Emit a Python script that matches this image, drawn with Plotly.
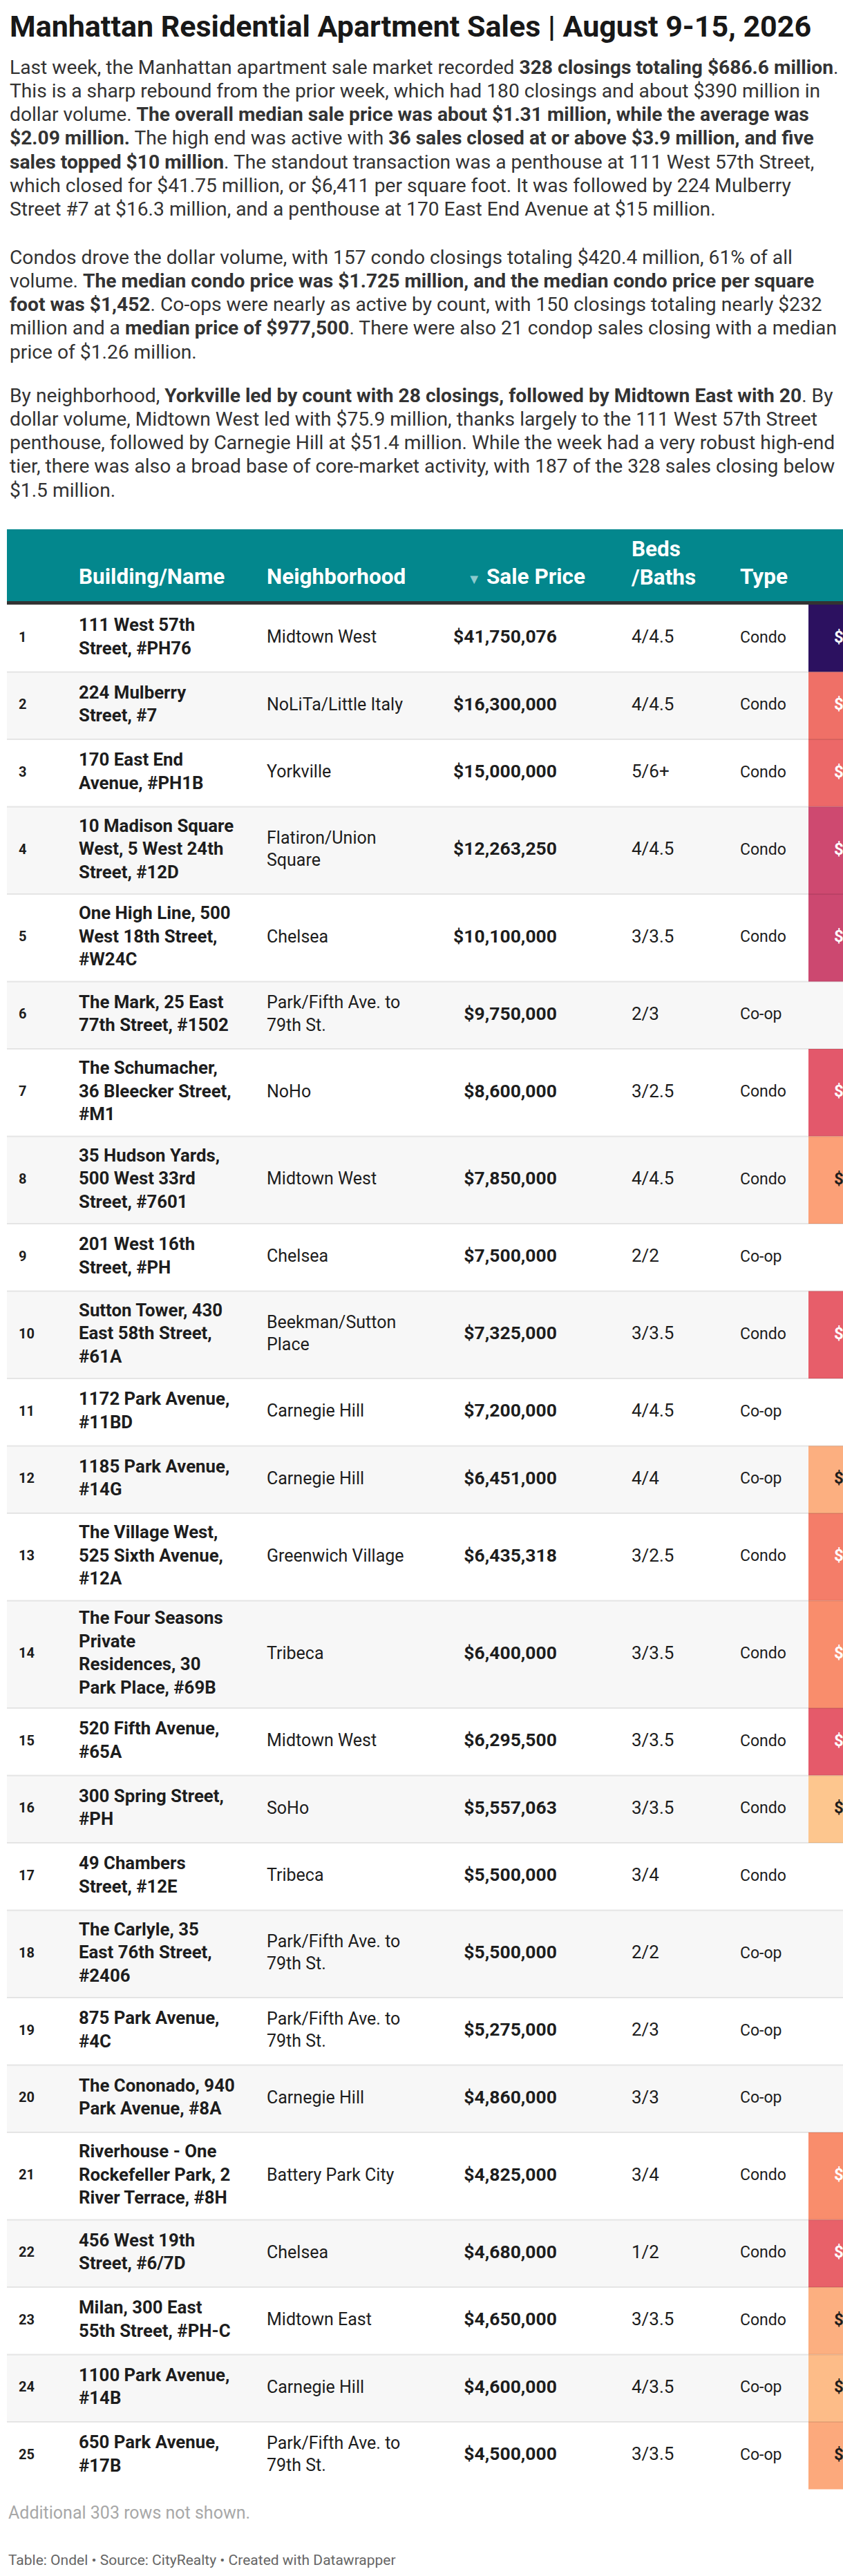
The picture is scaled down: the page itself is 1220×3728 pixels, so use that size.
import plotly.graph_objects as go
from plotly.colors import sample_colorscale

# ---- text ----
title = "Manhattan Residential Apartment Sales | August 9-15, 2026"

para_1 = [
    "Last week, the Manhattan apartment sale market recorded <b>328 closings totaling $686.6 million</b>.",
    "This is a sharp rebound from the prior week, which had 180 closings and about $390 million in",
    "dollar volume. <b>The overall median sale price was about $1.31 million, while the average was</b>",
    "<b>$2.09 million.</b> The high end was active with <b>36 sales closed at or above $3.9 million, and five</b>",
    "<b>sales topped $10 million</b>. The standout transaction was a penthouse at 111 West 57th Street,",
    "which closed for $41.75 million, or $6,411 per square foot. It was followed by 224 Mulberry",
    "Street #7 at $16.3 million, and a penthouse at 170 East End Avenue at $15 million.",
]
para_2 = [
    "Condos drove the dollar volume, with 157 condo closings totaling $420.4 million, 61% of all",
    "volume. <b>The median condo price was $1.725 million, and the median condo price per square</b>",
    "<b>foot was $1,452</b>. Co-ops were nearly as active by count, with 150 closings totaling nearly $232",
    "million and a <b>median price of $977,500</b>. There were also 21 condop sales closing with a median",
    "price of $1.26 million.",
]
para_3 = [
    "By neighborhood, <b>Yorkville led by count with 28 closings, followed by Midtown East with 20</b>. By",
    "dollar volume, Midtown West led with $75.9 million, thanks largely to the 111 West 57th Street",
    "penthouse, followed by Carnegie Hill at $51.4 million. While the week had a very robust high-end",
    "tier, there was also a broad base of core-market activity, with 187 of the 328 sales closing below",
    "$1.5 million.",
]

# ---- table data ----
ranks = list(range(1, 26))
buildings = [
    "111 West 57th<br>Street, #PH76",
    "224 Mulberry<br>Street, #7",
    "170 East End<br>Avenue, #PH1B",
    "10 Madison Square<br>West, 5 West 24th<br>Street, #12D",
    "One High Line, 500<br>West 18th Street,<br>#W24C",
    "The Mark, 25 East<br>77th Street, #1502",
    "The Schumacher,<br>36 Bleecker Street,<br>#M1",
    "35 Hudson Yards,<br>500 West 33rd<br>Street, #7601",
    "201 West 16th<br>Street, #PH",
    "Sutton Tower, 430<br>East 58th Street,<br>#61A",
    "1172 Park Avenue,<br>#11BD",
    "1185 Park Avenue,<br>#14G",
    "The Village West,<br>525 Sixth Avenue,<br>#12A",
    "The Four Seasons<br>Private<br>Residences, 30<br>Park Place, #69B",
    "520 Fifth Avenue,<br>#65A",
    "300 Spring Street,<br>#PH",
    "49 Chambers<br>Street, #12E",
    "The Carlyle, 35<br>East 76th Street,<br>#2406",
    "875 Park Avenue,<br>#4C",
    "The Cononado, 940<br>Park Avenue, #8A",
    "Riverhouse - One<br>Rockefeller Park, 2<br>River Terrace, #8H",
    "456 West 19th<br>Street, #6/7D",
    "Milan, 300 East<br>55th Street, #PH-C",
    "1100 Park Avenue,<br>#14B",
    "650 Park Avenue,<br>#17B",
]
neighborhoods = [
    "Midtown West", "NoLiTa/Little Italy", "Yorkville", "Flatiron/Union<br>Square",
    "Chelsea", "Park/Fifth Ave. to<br>79th St.", "NoHo", "Midtown West", "Chelsea",
    "Beekman/Sutton<br>Place", "Carnegie Hill", "Carnegie Hill", "Greenwich Village",
    "Tribeca", "Midtown West", "SoHo", "Tribeca", "Park/Fifth Ave. to<br>79th St.",
    "Park/Fifth Ave. to<br>79th St.", "Carnegie Hill", "Battery Park City", "Chelsea",
    "Midtown East", "Carnegie Hill", "Park/Fifth Ave. to<br>79th St.",
]
sale_prices = [
    41750076, 16300000, 15000000, 12263250, 10100000, 9750000, 8600000, 7850000,
    7500000, 7325000, 7200000, 6451000, 6435318, 6400000, 6295500, 5557063,
    5500000, 5500000, 5275000, 4860000, 4825000, 4680000, 4650000, 4600000, 4500000,
]
beds_baths = [
    "4/4.5", "4/4.5", "5/6+", "4/4.5", "3/3.5", "2/3", "3/2.5", "4/4.5", "2/2", "3/3.5",
    "4/4.5", "4/4", "3/2.5", "3/3.5", "3/3.5", "3/3.5", "3/4", "2/2", "2/3", "3/3",
    "3/4", "1/2", "3/3.5", "4/3.5", "3/3.5",
]
apt_types = [
    "Condo", "Condo", "Condo", "Condo", "Condo", "Co-op", "Condo", "Condo", "Co-op", "Condo",
    "Co-op", "Co-op", "Condo", "Condo", "Condo", "Condo", "Condo", "Co-op", "Co-op", "Co-op",
    "Condo", "Condo", "Condo", "Co-op", "Co-op",
]
# price per square foot (column is cut off on the right, only first one is known)
price_per_sqft = [
    6411, 3630, 3750, 4420, 4460, None, 4000, 2640, None, 3900,
    None, 2400, 3400, 3100, 3950, 2050, None, None, None, None,
    3100, 3850, 2400, 2200, 2500,
]
col_headers = ["Building/Name", "Neighborhood", "Sale Price", "Beds<br>/Baths", "Type"]
rows_not_shown = 303
credit = "Table: Ondel \u2022 Source: CityRealty \u2022 Created with Datawrapper"

# ---- style / layout ----
W, H = 1220, 3728
FONT = "Roboto, Arial, sans-serif"
TEAL = "#03878d"
INK = "#1d1d1d"
LEFT = 10
HEAD_TOP, HEAD_BOT, RULE = 766, 870, 5
LINE_H, ROW_PAD = 29, 39.5
col_x = {"rank": 27, "name": 114, "hood": 386, "price": 806, "beds": 914, "type": 1071, "ppsf": 1170}
ppsf_scale = [[0, "#fde4a8"], [0.11, "#fdc78e"], [0.23, "#fca077"], [0.33, "#f98c6b"],
              [0.43, "#f07167"], [0.5, "#e55a6a"], [0.6, "#cd4870"], [1, "#2c1160"]]
PPSF_MIN = 1500

# row geometry from the number of text lines
n_lines = [max(b.count("<br>"), h.count("<br>")) + 1 for b, h in zip(buildings, neighborhoods)]
row_h = [ROW_PAD + LINE_H * k for k in n_lines]
tops = []
y = HEAD_BOT + RULE
for h in row_h:
    tops.append(y)
    y += h
table_bottom = y
centers = [t + h / 2 for t, h in zip(tops, row_h)]
n = len(ranks)

fig = go.Figure()

# header band + rule
fig.add_trace(go.Bar(
    orientation="h", y=[(HEAD_TOP + HEAD_BOT) / 2, HEAD_BOT + RULE / 2],
    x=[W + 50, W + 50], base=LEFT, width=[HEAD_BOT - HEAD_TOP, RULE],
    marker=dict(color=[TEAL, "#333333"], line_width=0), hoverinfo="skip",
))

# zebra rows
fig.add_trace(go.Bar(
    orientation="h", y=centers, x=[W + 50] * n, base=LEFT, width=row_h,
    marker=dict(color=["#ffffff" if i % 2 == 0 else "#f7f7f7" for i in range(n)], line_width=0),
    hoverinfo="skip",
))

# heat-coloured price per sq ft cells
pp_idx = [i for i, v in enumerate(price_per_sqft) if v is not None]
pp_max = max(v for v in price_per_sqft if v is not None)
pp_pos = [(price_per_sqft[i] - PPSF_MIN) / (pp_max - PPSF_MIN) for i in pp_idx]
pp_colors = sample_colorscale(ppsf_scale, pp_pos)
fig.add_trace(go.Bar(
    orientation="h", y=[centers[i] for i in pp_idx], x=[150] * len(pp_idx),
    base=col_x["ppsf"], width=[row_h[i] for i in pp_idx],
    marker=dict(color=pp_colors, line_width=0), hoverinfo="skip",
))

# row separators
sx, sy = [], []
for t in tops[1:]:
    sx += [LEFT, W + 20, None]
    sy += [t, t, None]
fig.add_trace(go.Scatter(x=sx, y=sy, mode="lines", line=dict(color="rgba(0,0,0,0.085)", width=2),
                         hoverinfo="skip"))


def text_col(x, texts, ys, size, weight=400, color=INK, pos="middle right"):
    fig.add_trace(go.Scatter(
        x=[x] * len(texts), y=ys, mode="text", text=texts, textposition=pos,
        textfont=dict(family=FONT, size=size, color=color, weight=weight),
        hoverinfo="skip",
    ))


text_col(col_x["rank"], [str(r) for r in ranks], centers, 20, 700)
text_col(col_x["name"], buildings, centers, 25.8, 700)
text_col(col_x["hood"], neighborhoods, centers, 25)
text_col(col_x["price"], ["${:,}".format(p) for p in sale_prices], centers, 26.5, 700, pos="middle left")
text_col(col_x["beds"], beds_baths, centers, 26)
text_col(col_x["type"], apt_types, centers, 23)
fig.add_trace(go.Scatter(
    x=[col_x["ppsf"] + 37] * len(pp_idx), y=[centers[i] for i in pp_idx], mode="text",
    text=["${:,}".format(price_per_sqft[i]) for i in pp_idx], textposition="middle right",
    textfont=dict(family=FONT, size=24, weight=700,
                  color=["#ffffff" if p > 0.3 else INK for p in pp_pos]),
    hoverinfo="skip",
))

# header labels (bottom aligned on one baseline)
HEAD_LINE_Y, HEAD_FS = 837, 31.5
head_x = [col_x["name"], col_x["hood"], 847, col_x["beds"], col_x["type"]]
head_y = [HEAD_LINE_Y - c.count("<br>") * 0.6 * HEAD_FS for c in col_headers]
head_txt = ['<span style="color:#8ccacd;font-size:20px">\u25bc</span> ' + c if c == "Sale Price" else c
            for c in col_headers]
fig.add_trace(go.Scatter(
    x=head_x, y=head_y, mode="text", text=head_txt,
    textposition=["middle right", "middle right", "middle left", "middle right", "middle right"],
    textfont=dict(family=FONT, size=HEAD_FS, color="#ffffff", weight=700), hoverinfo="skip",
))

# title, description (one annotation per line to keep the line pitch), footer
BODY_FS, BODY_STEP = 28.2, 34.3
ann = [dict(x=12, y=38, text="<b>" + title + "</b>", font=dict(size=43, color="#181818"))]
for first_y, lines in [(97, para_1), (372, para_2), (572, para_3)]:
    for k, line in enumerate(lines):
        ann.append(dict(x=12, y=first_y + k * BODY_STEP, text=line,
                        font=dict(size=BODY_FS, color="#333333")))
ann += [
    dict(x=10, y=table_bottom + 34, text="Additional {} rows not shown.".format(rows_not_shown),
         font=dict(size=25, color="#a8a8a8")),
    dict(x=10, y=table_bottom + 102, text=credit, font=dict(size=21, color="#666666")),
]
for a in ann:
    a["font"]["family"] = FONT
    fig.add_annotation(xref="x", yref="y", xanchor="left", yanchor="middle", align="left",
                       showarrow=False, **a)

fig.update_layout(
    width=W, height=H, margin=dict(l=0, r=0, t=0, b=0),
    paper_bgcolor="white", plot_bgcolor="white",
    barmode="overlay", showlegend=False, hovermode=False,
    xaxis=dict(range=[0, W], visible=False, fixedrange=True),
    yaxis=dict(range=[H, 0], visible=False, fixedrange=True),
)

fig.write_html("out.html", config={"displayModeBar": False},
               post_script="document.body.style.margin='0';document.body.style.overflow='hidden';")
